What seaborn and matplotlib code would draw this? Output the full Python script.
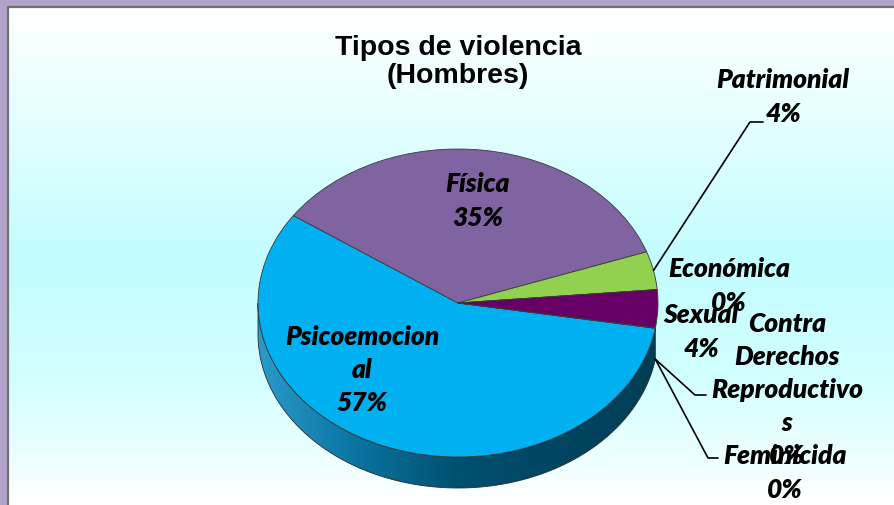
import numpy as np
import matplotlib
matplotlib.use('Agg')
import matplotlib.pyplot as plt
from matplotlib.patches import Polygon
import seaborn as sns

# ------------------------------------------------------------
# datos
# ------------------------------------------------------------
categorias = ['Psicoemocional', 'Física', 'Patrimonial', 'Económica', 'Sexual',
              'Contra Derechos Reproductivos', 'Feminicida']
valores = [57, 35, 4, 0, 4, 0, 0]
etiquetas = ['Psicoemocion\nal', 'Física', 'Patrimonial', 'Económica', 'Sexual',
             'Contra\nDerechos\nReproductivo\ns', 'Feminicida']
colores = ['#00B0F0', '#8064A2', '#92D050', '#C0504D', '#660066', '#4BACC6', '#F79646']
titulo = 'Tipos de violencia\n(Hombres)'

# ------------------------------------------------------------
# layout (pixeles de la imagen)
# ------------------------------------------------------------
W, H = 895, 506
CX, CY, RX, RY = 458, 304, 200, 154
DEPTH = 31 / RY
START = -9.4

# centro de cada etiqueta, en pixeles
pos_etiqueta = {
    'Psicoemocional': (362, 370),
    'Física': (478, 201),
    'Patrimonial': (783, 97),
    'Económica': (729, 286),
    'Sexual': (701, 332),
    'Contra Derechos Reproductivos': (787, 390),
    'Feminicida': (785, 473),
}
# lineas guia: codo y final (pixeles); el inicio sale del sector
guias = {
    'Patrimonial': ((750, 123), (763, 123), 'top'),
    'Contra Derechos Reproductivos': ((695, 396), (706, 396), 'side'),
    'Feminicida': ((708, 459), (718, 459), 'side'),
}


def px(x, y):
    return ((x - CX) / RX, (CY - y) / RY)


sns.set_style('white')
plt.rcParams['font.family'] = ['Liberation Sans', 'DejaVu Sans']
plt.rcParams['text.color'] = 'black'

fig = plt.figure(figsize=(W / 100, H / 100), dpi=100)
fig.patch.set_facecolor('#B3A3CB')
ax = fig.add_axes([0, 0, 1, 1])
ax.patch.set_alpha(0)

# fondo degradado blanco -> cian -> blanco
fondo = sns.blend_palette(['#FFFFFF', '#E2FFFF', '#C2FDFF', '#D2FFFF', '#FFFFFF'], as_cmap=True)
grad = np.linspace(0, 1, 256).reshape(-1, 1)
x0, y0 = px(8, 8)
x1, y1 = px(W, H)
ax.imshow(grad, cmap=fondo, aspect='auto', extent=(x0, x1, y1, y0), zorder=0)
ax.plot([x0, x0, x1], [y1, y0, y0], color='#6F6F6F', lw=1.6, zorder=0.5,
        solid_capstyle='butt')

# pastel (cara superior)
wedges, _ = ax.pie(valores, colors=colores, startangle=START, counterclock=False,
                   radius=1, center=(0, 0),
                   wedgeprops=dict(edgecolor='#3A3A3A', linewidth=0.6))
for w in wedges:
    w.set_zorder(3)

# lateral del pastel (efecto 3D)
lado = sns.blend_palette(['#2A9BCC', '#0A73A0', '#00506F', '#004562', '#003E55'], as_cmap=True)
lados_solidos = {'Sexual': '#3E003E'}
for cat, w in zip(categorias, wedges):
    t1, t2 = w.theta1, w.theta2
    if t2 - t1 <= 0:
        continue
    for k in (-360, 0, 360):
        lo, hi = max(t1, 180 + k), min(t2, 360 + k)
        if hi <= lo:
            continue
        t = np.radians(np.linspace(lo, hi, 300))
        xs = np.concatenate([np.cos(t), np.cos(t[::-1])])
        ys = np.concatenate([np.sin(t), np.sin(t[::-1]) - DEPTH])
        poly = Polygon(np.column_stack([xs, ys]), closed=True,
                       facecolor=lados_solidos.get(cat, 'none'),
                       edgecolor='#2A2A2A', linewidth=0.6, zorder=2)
        ax.add_patch(poly)
        if cat not in lados_solidos:
            img = ax.imshow(np.linspace(0, 1, 256).reshape(1, -1), cmap=lado, aspect='auto',
                            extent=(-1, 1, -1 - DEPTH, 0.05), zorder=1.5)
            img.set_clip_path(poly)

# etiquetas
total = sum(valores)
ang = {}
for cat, w in zip(categorias, wedges):
    ang[cat] = np.radians((w.theta1 + w.theta2) / 2)

for cat, lab, v in zip(categorias, etiquetas, valores):
    texto = f'{lab}\n{v / total * 100:.0f}%'
    ax.text(*px(*pos_etiqueta[cat]), texto, ha='center', va='center',
            fontsize=19, fontweight='heavy', fontstyle='italic', family='Lato',
            linespacing=1.46, color='black', zorder=6)

for cat, (codo, fin, donde) in guias.items():
    a = ang[cat]
    inicio = (np.cos(a), np.sin(a) - (DEPTH if donde == 'side' else 0))
    pts = [inicio, px(*codo), px(*fin)]
    ax.plot([p[0] for p in pts], [p[1] for p in pts], color='black', lw=1.2, zorder=5)

ax.text(*px(458, 62), titulo, ha='center', va='center', fontsize=20.5,
        fontweight='bold', linespacing=1.08, color='black', zorder=6)

ax.set_aspect('auto')
ax.set_xlim((0 - CX) / RX, (W - CX) / RX)
ax.set_ylim((CY - H) / RY, CY / RY)
ax.axis('off')

plt.savefig('out.png', dpi=100, facecolor=fig.get_facecolor())
